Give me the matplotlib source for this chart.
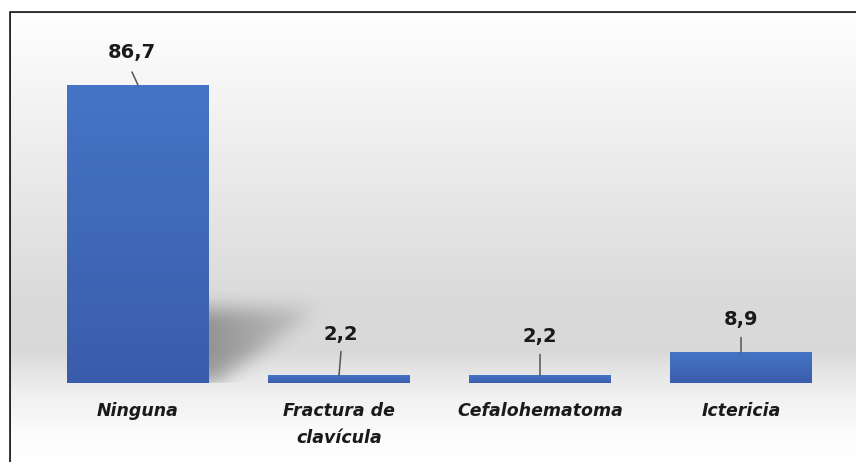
import numpy as np
import matplotlib.pyplot as plt
from matplotlib.lines import Line2D
from matplotlib.colors import to_rgb

categories = ["Ninguna", "Fractura de\nclavícula", "Cefalohematoma", "Ictericia"]
values = [86.7, 2.2, 2.2, 8.9]
value_labels = ["86,7", "2,2", "2,2", "8,9"]

# label placement (pixels): text offset above bar top, leader length, leader slant
LABEL_GAP = [33, 41, 39, 33]
LEADER_LEN = [13, 24, 21, 15]
LEADER_DX = [-6, 2, 0, 0]

BAR_TOP = "#4574c6"
BAR_BOTTOM = "#3a5dab"
BAR_WIDTH = 0.706

W, H = 856, 462
fig = plt.figure(figsize=(W / 100, H / 100), dpi=100)
ax = fig.add_axes([0, 0, 1, 1])
px_per_unit_x = 201
px_per_unit_y = 3.437
base_px = 383  # baseline, pixels from top
x_left = -138 / px_per_unit_x
ax.set_xlim(x_left, x_left + W / px_per_unit_x)
y_bottom = -(H - base_px) / px_per_unit_y
ax.set_ylim(y_bottom, y_bottom + H / px_per_unit_y)
ax.axis("off")

# background gradient (light top, gray middle, white bottom)
rows = np.arange(H)
stops_px = [0, 20, 100, 200, 300, 350, 372, 400, 440, 462]
stops_v = [1.0, 0.995, 0.955, 0.905, 0.855, 0.85, 0.9, 0.95, 0.992, 1.0]
grey = np.interp(rows, stops_px, stops_v)
bg = np.repeat(grey[:, None], 2, axis=1)
bg = np.dstack([bg, bg, bg])
xl, yl = ax.get_xlim(), ax.get_ylim()
ax.imshow(bg, extent=[xl[0], xl[1], yl[0], yl[1]], origin="upper",
          aspect="auto", zorder=0, interpolation="bilinear")

# soft shadow cast by the first bar
x0 = BAR_WIDTH / 2
sx = np.linspace(x0 - 0.1, x0 + 0.85, 380)
sy = np.linspace(-5, 35, 240)
gx, gy = np.meshgrid(sx, sy)
top_y = 21.5
right_x = x0 + 0.55
edge_x = x0 + 0.04 + (right_x - x0 - 0.04) * np.clip(gy / top_y, 0, 1)
mask = ((gy <= top_y) & (gy >= 0) & (gx <= edge_x)).astype(float)
for axis in (0, 1):
    k = np.ones(31) / 31
    for _ in range(3):
        mask = np.apply_along_axis(lambda m: np.convolve(m, k, mode="same"), axis, mask)
fade = 1 - 0.7 * np.clip((gx - x0) / (right_x - x0), 0, 1)
alpha = np.clip(mask * fade * 0.32, 0, 1)
alpha[gy < 0] = 0
shadow = np.zeros((len(sy), len(sx), 4))
shadow[..., 3] = alpha
ax.imshow(shadow, extent=[sx[0], sx[-1], sy[0], sy[-1]], origin="lower",
          aspect="auto", zorder=1, interpolation="bilinear")

# bars with vertical gradient
grad = np.linspace(0, 1, 256)[:, None]
c_top, c_bot = np.array(to_rgb(BAR_TOP)), np.array(to_rgb(BAR_BOTTOM))
bar_img = c_top[None, None, :] * (1 - grad[..., None]) + c_bot[None, None, :] * grad[..., None]
bars = ax.bar(range(len(values)), values, width=BAR_WIDTH, color=BAR_BOTTOM, zorder=2)
for b in bars:
    x, y = b.get_x(), b.get_y()
    im = ax.imshow(bar_img, extent=[x, x + b.get_width(), y, y + b.get_height()],
                   origin="upper", aspect="auto", zorder=2.5)
    im.set_clip_path(b)

# value labels with leader lines
for i, (v, lab) in enumerate(zip(values, value_labels)):
    ax.annotate(lab, xy=(i, v), xytext=(LEADER_DX[i], LABEL_GAP[i]),
                textcoords="offset pixels", ha="center", va="center",
                fontsize=14, fontweight="bold", color="#1a1a1a", zorder=4)
    ax.annotate("", xy=(i, v), xytext=(LEADER_DX[i], LEADER_LEN[i]),
                textcoords="offset pixels",
                arrowprops=dict(arrowstyle="-", color="#555555", lw=1.1,
                                shrinkA=0, shrinkB=0), zorder=3)

# category labels
for i, cat in enumerate(categories):
    ax.annotate(cat, xy=(i, 0), xytext=(0, -19), textcoords="offset pixels",
                ha="center", va="top", fontsize=12.5, fontweight="bold",
                fontstyle="italic", color="#1a1a1a", linespacing=1.65)

# frame (top and left edges visible)
fig.add_artist(Line2D([9 / W, 1], [1 - 11 / H, 1 - 11 / H], color="#111111", lw=2,
                      transform=fig.transFigure))
fig.add_artist(Line2D([9 / W, 9 / W], [0, 1 - 11 / H], color="#111111", lw=2,
                      transform=fig.transFigure))
# white margin outside frame
fig.patches.append(plt.Rectangle((0, 1 - 10 / H), 1, 10 / H, color="white",
                                 transform=fig.transFigure, zorder=5))
fig.patches.append(plt.Rectangle((0, 0), 8 / W, 1, color="white",
                                 transform=fig.transFigure, zorder=5))

fig.savefig("out.png", dpi=100)
